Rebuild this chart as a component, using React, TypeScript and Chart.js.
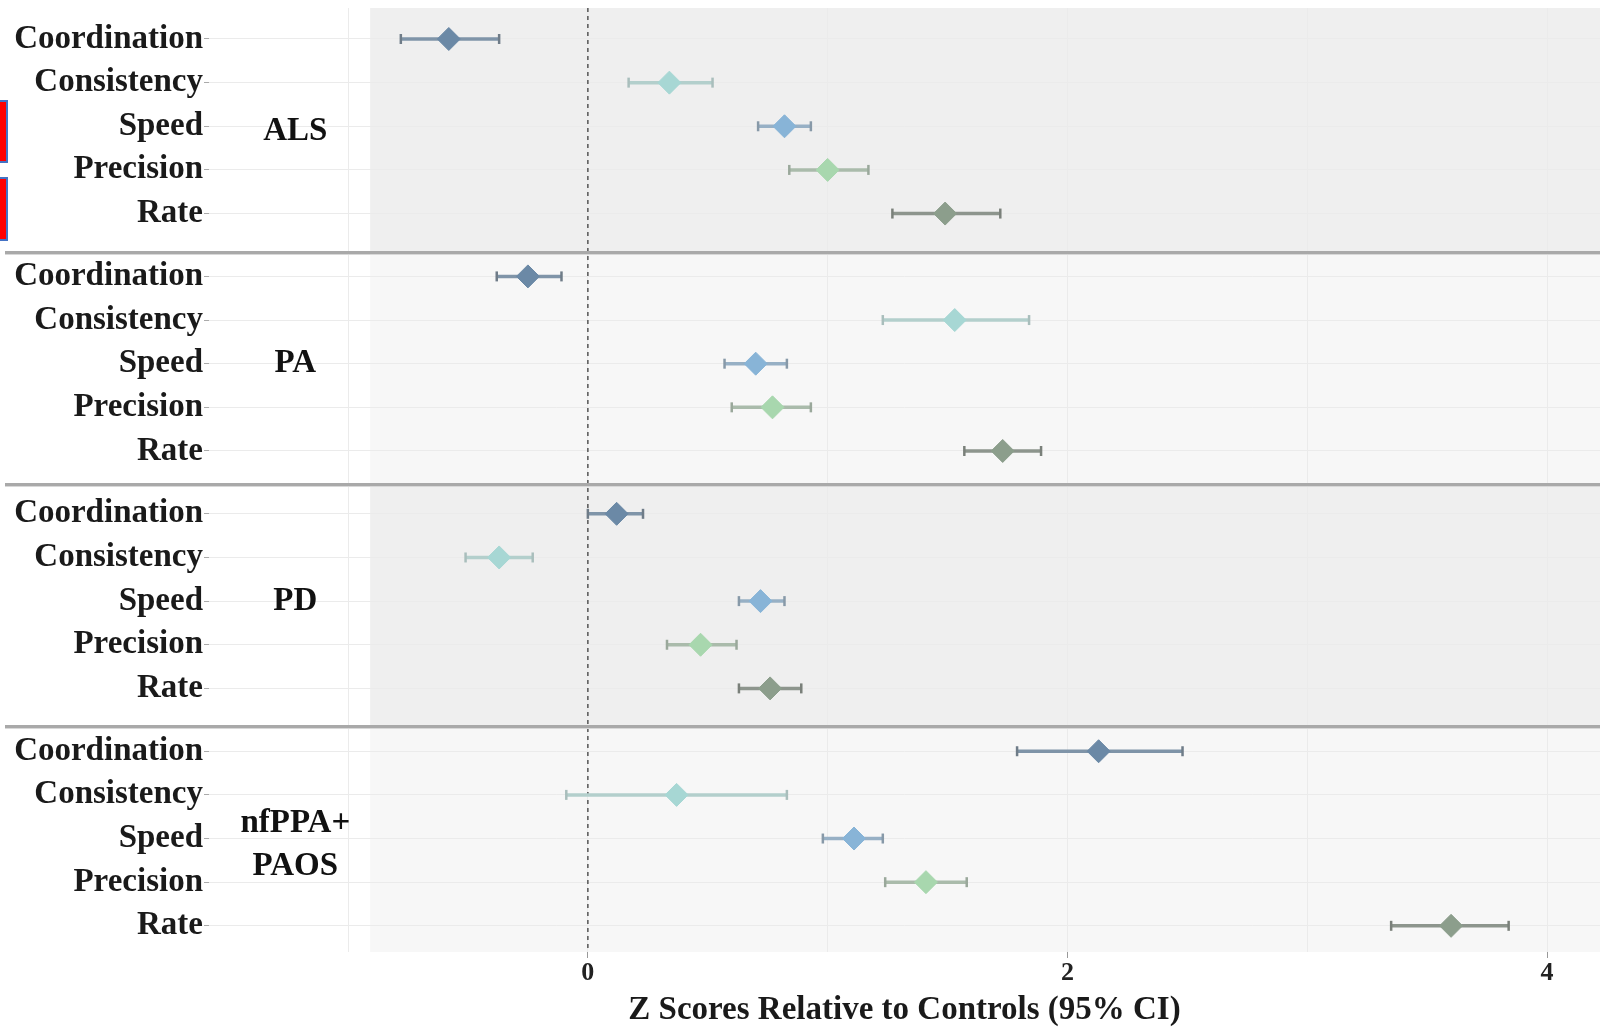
import React, { useEffect, useRef } from "react";
import { Chart, registerables } from "chart.js";

Chart.register(...registerables);

// ---------- data ----------
const GROUPS = ["ALS", "PA", "PD", "nfPPA+\nPAOS"];
const MEASURES = ["Coordination", "Consistency", "Speed", "Precision", "Rate"];

// Z scores (point estimate, lower CI, upper CI), order = MEASURES
const ALS_EST = [-0.58, 0.34, 0.82, 1.0, 1.49];
const ALS_LO = [-0.78, 0.17, 0.71, 0.84, 1.27];
const ALS_HI = [-0.37, 0.52, 0.93, 1.17, 1.72];

const PA_EST = [-0.25, 1.53, 0.7, 0.77, 1.73];
const PA_LO = [-0.38, 1.23, 0.57, 0.6, 1.57];
const PA_HI = [-0.11, 1.84, 0.83, 0.93, 1.89];

const PD_EST = [0.12, -0.37, 0.72, 0.47, 0.76];
const PD_LO = [0.0, -0.51, 0.63, 0.33, 0.63];
const PD_HI = [0.23, -0.23, 0.82, 0.62, 0.89];

const NF_EST = [2.13, 0.37, 1.11, 1.41, 3.6];
const NF_LO = [1.79, -0.09, 0.98, 1.24, 3.35];
const NF_HI = [2.48, 0.83, 1.23, 1.58, 3.84];

const EST = [ALS_EST, PA_EST, PD_EST, NF_EST];
const LO = [ALS_LO, PA_LO, PD_LO, NF_LO];
const HI = [ALS_HI, PA_HI, PD_HI, NF_HI];

const X_GRID = [-1, 0, 1, 2, 3, 4];
const X_TICK_LABELS = ["0", "2", "4"];
const X_TITLE = "Z Scores Relative to Controls (95% CI)";

// ---------- styling / layout ----------
const DIAMOND_COLORS = ["#6b89a6", "#a7d7d4", "#88b4d7", "#a8d7ae", "#8c9e8c"];
const LINE_COLORS = ["#7f94a8", "#b3cfcc", "#97b0c5", "#aabbab", "#8d958d"];
const CAP_COLORS = ["#6f7c88", "#a9bebc", "#8799a8", "#9aa89b", "#7a807a"];

const PANEL_STEP = 5.44;
const Y_MIN = -0.71;
const Y_MAX = 20.92;
const X_MIN = -1.58;
const X_MAX = 4.221;
const SHADE_FROM = -0.908;
const LABEL_X = -1.22;
const SEPS = [4.89, 10.19, 15.75];
const LABEL_SHIFT = [0.12, 0.0, 0.0, 0.1];
const PANEL_FILLS = ["#efefef", "#f7f7f7", "#efefef", "#f7f7f7"];
const FONT = '"Liberation Serif", "Times New Roman", serif';

const rowY = (g: number, m: number) => g * PANEL_STEP + m;
const ROW_Y: number[] = [];
GROUPS.forEach((_, g) => MEASURES.forEach((_, m) => ROW_Y.push(rowY(g, m))));

const zeroPad = (s: any) => {
  s.paddingTop = 0;
  s.paddingBottom = 0;
  s.paddingLeft = 0;
  s.paddingRight = 0;
};

const decorPlugin = {
  id: "decor",
  beforeDraw(chart: any) {
    const { ctx, chartArea, scales } = chart;
    const x = scales.x;
    const y = scales.y;
    const bounds = [Y_MIN, ...SEPS, Y_MAX];
    ctx.save();
    const x0 = x.getPixelForValue(SHADE_FROM);
    for (let i = 0; i < 4; i++) {
      const y0 = y.getPixelForValue(bounds[i]);
      const y1 = y.getPixelForValue(bounds[i + 1]);
      ctx.fillStyle = PANEL_FILLS[i];
      ctx.fillRect(x0, y0, chartArea.right - x0, y1 - y0);
    }
    ctx.restore();
  },
  afterDatasetsDraw(chart: any) {
    const { ctx, scales, width } = chart;
    const x = scales.x;
    const y = scales.y;
    ctx.save();
    // separators
    SEPS.forEach((s) => {
      const py = Math.round(y.getPixelForValue(s));
      ctx.fillStyle = "#a9a9a9";
      ctx.fillRect(5, py - 1, width - 5, 3);
      ctx.fillStyle = "#d8d8d8";
      ctx.fillRect(5, py + 2, width - 5, 1);
    });
    // group labels
    ctx.fillStyle = "#111";
    ctx.font = `bold 33px ${FONT}`;
    ctx.textAlign = "center";
    ctx.textBaseline = "middle";
    GROUPS.forEach((gName, g) => {
      const lines = gName.split("\n");
      const cx = x.getPixelForValue(LABEL_X);
      const cy = rowY(g, 2) + LABEL_SHIFT[g];
      if (lines.length === 1) {
        ctx.fillText(lines[0], cx, y.getPixelForValue(cy));
      } else {
        ctx.fillText(lines[0], cx, y.getPixelForValue(cy - 0.45));
        ctx.fillText(lines[1], cx, y.getPixelForValue(cy + 0.55));
      }
    });
    ctx.restore();
  },
};

export default function App() {
  const ref = useRef<HTMLCanvasElement | null>(null);

  useEffect(() => {
    document.body.style.margin = "0";
    const canvas = ref.current;
    if (!canvas) return;

    const datasets: any[] = [];
    // zero reference line
    datasets.push({
      type: "line",
      data: [
        { x: 0, y: Y_MIN },
        { x: 0, y: Y_MAX },
      ],
      borderColor: "#555",
      borderWidth: 1.5,
      borderDash: [4, 4],
      pointRadius: 0,
      order: 5,
    });
    // error bars
    GROUPS.forEach((_, g) => {
      MEASURES.forEach((_, m) => {
        datasets.push({
          type: "line",
          data: [
            { x: LO[g][m], y: rowY(g, m) },
            { x: HI[g][m], y: rowY(g, m) },
          ],
          borderColor: LINE_COLORS[m],
          borderWidth: 3.5,
          pointStyle: "line",
          pointRadius: 5,
          pointRotation: 90,
          pointBorderColor: CAP_COLORS[m],
          pointBorderWidth: 2.5,
          order: 2,
        });
      });
    });
    // diamonds
    MEASURES.forEach((_, m) => {
      datasets.push({
        type: "line",
        showLine: false,
        data: GROUPS.map((__, g) => ({ x: EST[g][m], y: rowY(g, m) })),
        pointStyle: "rectRot",
        pointRadius: 11.5,
        pointBackgroundColor: DIAMOND_COLORS[m],
        pointBorderColor: DIAMOND_COLORS[m],
        pointBorderWidth: 1,
        order: 1,
      });
    });

    const chart = new Chart(canvas, {
      type: "line",
      data: { datasets },
      plugins: [decorPlugin],
      options: {
        animation: false,
        responsive: false,
        layout: { autoPadding: false, padding: { top: 8, left: 0, right: 0, bottom: 0 } },
        plugins: { legend: { display: false }, tooltip: { enabled: false } },
        scales: {
          x: {
            type: "linear",
            min: X_MIN,
            max: X_MAX,
            afterBuildTicks: (s: any) => {
              s.ticks = X_GRID.map((v) => ({ value: v }));
            },
            afterFit: (s: any) => {
              s.height = 1027 - 952;
              zeroPad(s);
            },
            ticks: {
              autoSkip: false,
              maxRotation: 0,
              padding: 0,
              color: "#222",
              font: { family: FONT, size: 26, weight: "bold" },
              callback: (v: any) => {
                const t = String(v);
                return X_TICK_LABELS.includes(t) ? t : "";
              },
            },
            grid: {
              color: "#ebebeb",
              lineWidth: 1,
              tickLength: 6,
              tickColor: (c: any) =>
                c.tick && X_TICK_LABELS.includes(String(c.tick.value)) ? "#999" : "rgba(0,0,0,0)",
            },
            border: { display: false },
            title: {
              display: true,
              text: X_TITLE,
              color: "#1a1a1a",
              font: { family: FONT, size: 33, weight: "bold", lineHeight: 1 },
              padding: { top: 0, bottom: 0 },
            },
          },
          y: {
            type: "linear",
            reverse: true,
            min: Y_MIN,
            max: Y_MAX,
            afterBuildTicks: (s: any) => {
              s.ticks = ROW_Y.map((v) => ({ value: v }));
            },
            afterFit: (s: any) => {
              s.width = 209;
              zeroPad(s);
            },
            ticks: {
              autoSkip: false,
              padding: 1,
              color: "#1a1a1a",
              font: { family: FONT, size: 33, weight: "bold" },
              callback: (_v: any, i: number) => MEASURES[i % MEASURES.length],
            },
            grid: {
              color: "#ebebeb",
              lineWidth: 1,
              tickLength: 5,
              tickColor: "#aaa",
            },
            border: { display: false },
          },
        },
      },
    });
    return () => chart.destroy();
  }, []);

  const boxStyle = (top: number, height: number): React.CSSProperties => ({
    position: "absolute",
    left: -4,
    top,
    width: 12,
    height,
    background: "#ff0000",
    border: "2px solid #4472c4",
    boxSizing: "border-box",
  });

  return (
    <div style={{ position: "relative", width: 1600, height: 1027, background: "#fff", overflow: "hidden" }}>
      <canvas ref={ref} width={1600} height={1027} style={{ display: "block" }} />
      <div style={boxStyle(100, 63)} />
      <div style={boxStyle(177, 64)} />
    </div>
  );
}
